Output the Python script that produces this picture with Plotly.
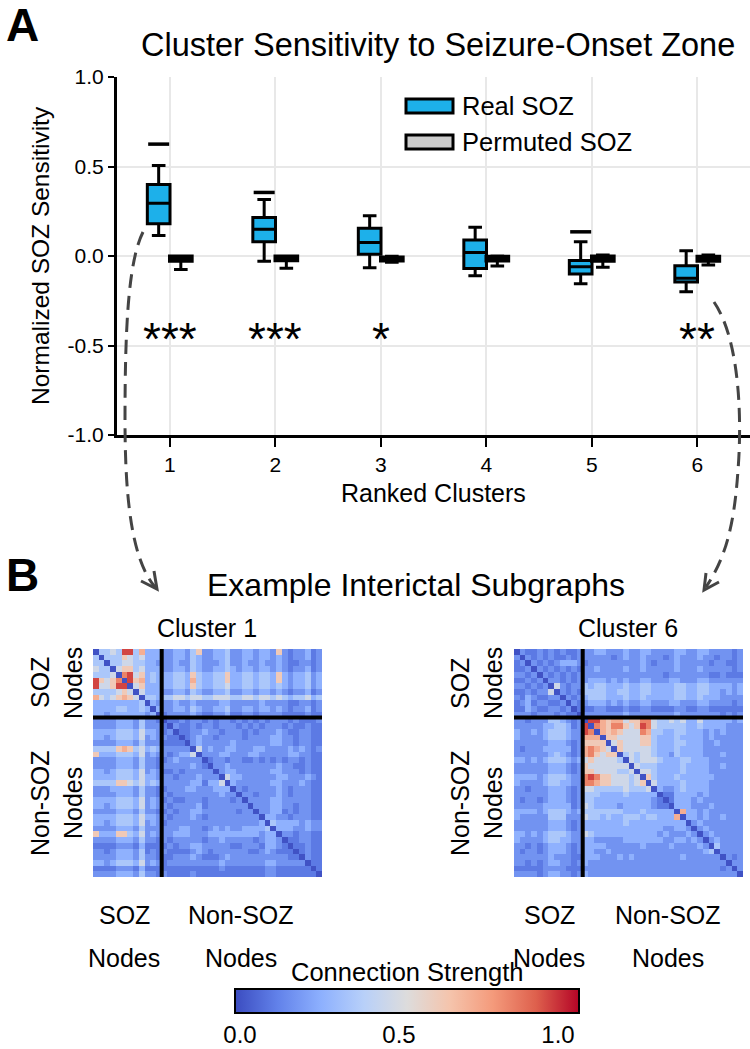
import plotly.graph_objects as go

W, H = 750, 1049
FONT = "Liberation Sans, Arial, Helvetica, sans-serif"

# ---------------- Panel A data ----------------
clusters = [1, 2, 3, 4, 5, 6]
real_q1 = [0.18, 0.08, 0.01, -0.07, -0.10, -0.145]
real_median = [0.295, 0.15, 0.075, 0.02, -0.06, -0.125]
real_q3 = [0.40, 0.215, 0.155, 0.09, -0.025, -0.055]
real_lower = [0.115, -0.03, -0.065, -0.11, -0.155, -0.20]
real_upper = [0.505, 0.315, 0.225, 0.16, 0.08, 0.03]
real_outliers = [[0.625], [0.355], [], [], [0.135], []]

perm_q1 = [-0.03, -0.027, -0.028, -0.028, -0.03, -0.03]
perm_median = [-0.015, -0.013, -0.017, -0.015, -0.015, -0.015]
perm_q3 = [0.0, 0.0, -0.005, -0.002, 0.0, -0.002]
perm_lower = [-0.075, -0.068, -0.035, -0.056, -0.063, -0.05]
perm_upper = [0.0, 0.0, -0.002, 0.0, 0.005, 0.005]

sig_labels = ["***", "***", "*", "", "", "**"]
sig_y = -0.43

y_ticks = [-1.0, -0.5, 0.0, 0.5, 1.0]
y_ticklabels = ["-1.0", "-0.5", "0.0", "0.5", "1.0"]

REAL_COLOR = "#1db0ea"
PERM_COLOR = "#cccccc"

# ---------------- Panel B data ----------------
n_nodes = 40
n_soz = 12
example_titles = ["Cluster 1", "Cluster 6"]
# digit level -> connection strength
LEVELS = [0.0, 0.1, 0.17, 0.26, 0.35, 0.47, 0.63, 0.73, 0.85, 0.97]

# Cluster 1: upper triangle, SOZ rows (cols i..11), SOZ x non-SOZ (cols 12..39), non-SOZ rows
c1_soz = ["044549947333", "04446545333", "0445544332", "056645333", "08956343",
          "0967343", "056333", "05333", "0443", "032", "03", "0"]
c1_cross = [
    "2233246223342233233262122312",
    "2233243223342233233232122312",
    "2232243222342232232232112212",
    "2233243223343233233232122312",
    "3344364334463344344363233423",
    "3344374334463344344363233423",
    "3344364334453344344343233423",
    "2233243223342233233232122312",
    "4455455445554455455454344534",
    "2232232222332222232222112212",
    "2233243223342233233232122312",
    "1222232112231122122221111211",
]
c1_non = [
    "0112122121221212121222121112", "021121221222121212221211211",
    "01122322122212122232112211", "0123221222212222332212211",
    "023222223222222332212211", "05232233222332222323212",
    "0222332223322222332211", "012212211212121221211",
    "02232222222232211211", "0233222222332221211",
    "053322222233222321", "03222222332223211",
    "0212222232122211", "022122232122211", "02222332222211",
    "0222332212211", "022331212211", "03322122211", "0433332322",
    "033322322", "02212211", "0112211", "011211", "01211", "0211",
    "011", "01", "0",
]

# Cluster 6
c6_soz = ["021121212112", "02121211212", "0212123332", "021212121", "02121212",
          "0221212", "052122", "02121", "0212", "021", "01", "0"]
c6_cross = [
    "2233222322332222332233222212",
    "2222212322322212322232212212",
    "1222222222321222322222122112",
    "2232222322322222322232222212",
    "2222222222222212222222112111",
    "2333232322332223322233222222",
    "4344333433443333443344333323",
    "4444334433443333443344332323",
    "3444333433433333443343332222",
    "2333232322332223322233222212",
    "1122111211221111221122111111",
    "2222222322222222322222221212",
]
c6_non = [
    "0997677566885445453353333323", "087688656985444443343333222",
    "07676555874433443332323222", "0665555664333433332322222",
    "056555664333443332232222", "06555554333433332222222",
    "0454554332433332223222", "054555433344333222222",
    "05444333343333223222", "0554333343333222222",
    "064333433333322222", "05333343333222222",
    "0322343333222222", "011333323222222", "01333232222222",
    "0333222322222", "073323222222", "03323223222", "0232222222",
    "023222222", "02322222", "0232222", "042222", "02222", "0212",
    "022", "02", "0",
]

cbar_ticks = [0.0, 0.5, 1.0]
cbar_ticklabels = ["0.0", "0.5", "1.0"]

COOLWARM = [
    [0.0, "#3b4cc0"], [0.125, "#6282ea"], [0.25, "#8db0fe"], [0.375, "#b8d0f9"],
    [0.5, "#dddcdc"], [0.625, "#f5c4ac"], [0.75, "#f49a7b"], [0.875, "#de604d"],
    [1.0, "#b40426"],
]


def build_matrix(soz_rows, cross_rows, non_rows):
    upper = [a + b for a, b in zip(soz_rows, cross_rows)] + list(non_rows)
    M = [[LEVELS[2]] * n_nodes for _ in range(n_nodes)]
    for i, row in enumerate(upper):
        for k, ch in enumerate(row):
            j = i + k
            if j < n_nodes:
                v = LEVELS[int(ch)]
                M[i][j] = v
                M[j][i] = v
    return M


M1 = build_matrix(c1_soz, c1_cross, c1_non)
M6 = build_matrix(c6_soz, c6_cross, c6_non)


def px(x):
    return x / W


def py(y):
    return 1 - y / H


OFF = 0.105
BOXW = 0.215

fig = go.Figure()

fig.add_trace(go.Box(
    x=[c - OFF for c in clusters], q1=real_q1, median=real_median, q3=real_q3,
    lowerfence=real_lower, upperfence=real_upper, width=BOXW,
    fillcolor=REAL_COLOR, line=dict(color="black", width=3), whiskerwidth=0.6,
    boxpoints=False, name="Real SOZ", showlegend=False, xaxis="x", yaxis="y"))
fig.add_trace(go.Box(
    x=[c + OFF for c in clusters], q1=perm_q1, median=perm_median, q3=perm_q3,
    lowerfence=perm_lower, upperfence=perm_upper, width=BOXW,
    fillcolor=PERM_COLOR, line=dict(color="black", width=3), whiskerwidth=0.6,
    boxpoints=False, name="Permuted SOZ", showlegend=False, xaxis="x", yaxis="y"))

ox, oy = [], []
for c, outs in zip(clusters, real_outliers):
    for v in outs:
        ox.append(c - OFF)
        oy.append(v)
fig.add_trace(go.Scatter(
    x=ox, y=oy, mode="markers", showlegend=False,
    marker=dict(symbol="line-ew", size=15, line=dict(color="black", width=3.5)),
    xaxis="x", yaxis="y"))

fig.add_trace(go.Heatmap(
    z=M1, x=list(range(n_nodes)), y=list(range(n_nodes)), colorscale=COOLWARM,
    zmin=-0.0157, zmax=1.066, showscale=False, xaxis="x2", yaxis="y2"))
fig.add_trace(go.Heatmap(
    z=M6, x=list(range(n_nodes)), y=list(range(n_nodes)), colorscale=COOLWARM,
    zmin=-0.0157, zmax=1.066, showscale=True, xaxis="x3", yaxis="y3",
    colorbar=dict(orientation="h", x=px(407), xanchor="center", y=py(989),
                  yanchor="top", len=344 / W, lenmode="fraction", thickness=24,
                  thicknessmode="pixels", outlinewidth=2, outlinecolor="black",
                  tickvals=cbar_ticks, ticktext=cbar_ticklabels, ticks="",
                  tickfont=dict(size=24, color="black", family=FONT),
                  xpad=0, ypad=0, borderwidth=0)))

axis_common = dict(showgrid=True, gridcolor="#e8e8e8", gridwidth=2, zeroline=False,
                   showline=True, linecolor="black", linewidth=3, ticks="outside",
                   tickcolor="black", tickwidth=2,
                   tickfont=dict(size=21, color="black", family=FONT))
hm_axis = dict(visible=False, showgrid=False, zeroline=False)

fig.update_layout(
    width=W, height=H, margin=dict(l=0, r=0, t=0, b=0, pad=0, autoexpand=False),
    paper_bgcolor="white", plot_bgcolor="white", showlegend=False,
    font=dict(family=FONT, color="black"),
    xaxis=dict(domain=[px(117), 1.0], range=[0.5, 6.5], tickvals=clusters,
               ticktext=[str(c) for c in clusters], ticklen=9, anchor="y",
               **axis_common),
    yaxis=dict(domain=[py(435), py(77)], range=[-1, 1], tickvals=y_ticks,
               ticktext=y_ticklabels, ticklen=6, anchor="x", **axis_common),
    xaxis2=dict(domain=[px(93), px(322)], range=[-0.5, n_nodes - 0.5], anchor="y2", **hm_axis),
    yaxis2=dict(domain=[py(877), py(649)], range=[n_nodes - 0.5, -0.5], anchor="x2", **hm_axis),
    xaxis3=dict(domain=[px(514), px(743)], range=[-0.5, n_nodes - 0.5], anchor="y3", **hm_axis),
    yaxis3=dict(domain=[py(877), py(649)], range=[n_nodes - 0.5, -0.5], anchor="x3", **hm_axis),
)

shapes = []
for xr, yr in [("x2", "y2"), ("x3", "y3")]:
    b = n_soz - 0.5
    shapes.append(dict(type="line", xref=xr, yref=yr, x0=b, x1=b, y0=-0.5,
                       y1=n_nodes - 0.5, line=dict(color="black", width=4)))
    shapes.append(dict(type="line", xref=xr, yref=yr, y0=b, y1=b, x0=-0.5,
                       x1=n_nodes - 0.5, line=dict(color="black", width=4)))

for (y0, y1), col in [((99, 113), REAL_COLOR), ((135, 149), PERM_COLOR)]:
    shapes.append(dict(type="rect", xref="paper", yref="paper", x0=px(406), x1=px(453),
                       y0=py(y1), y1=py(y0), fillcolor=col,
                       line=dict(color="black", width=3)))


def P(x, y):
    return f"{px(x):.5f},{py(y):.5f}"


ARROW = dict(color="#444444", width=3, dash="14px,8px")
shapes.append(dict(type="path", xref="paper", yref="paper",
                   path=f"M{P(143,232)} C{P(128,262)} {P(125,330)} {P(125,420)} "
                        f"C{P(125,500)} {P(132,560)} {P(155,587)}",
                   line=ARROW))
shapes.append(dict(type="path", xref="paper", yref="paper",
                   path=f"M{P(154,571)} L{P(157,589)} L{P(141,581)}",
                   line=dict(color="#444444", width=3)))
shapes.append(dict(type="path", xref="paper", yref="paper",
                   path=f"M{P(714,302)} C{P(740,340)} {P(742,420)} {P(738,470)} "
                        f"C{P(734,530)} {P(724,560)} {P(706,587)}",
                   line=ARROW))
shapes.append(dict(type="path", xref="paper", yref="paper",
                   path=f"M{P(706,573)} L{P(704,590)} L{P(719,582)}",
                   line=dict(color="#444444", width=3)))

annotations = []


def ann(text, x, y, size, **kw):
    d = dict(text=text, x=px(x), y=py(y), xref="paper", yref="paper",
             showarrow=False, xanchor="center", yanchor="middle",
             font=dict(size=size, color="black", family=FONT))
    d.update(kw)
    annotations.append(d)


ann("<b>A</b>", 22, 25, 46)
ann("<b>B</b>", 22, 575, 46)
ann("Cluster Sensitivity to Seizure-Onset Zone", 438, 45, 32.5)
ann("Normalized SOZ Sensitivity", 40, 256, 24.5, textangle=-90)
ann("Ranked Clusters", 433, 493, 25)
ann("Real SOZ", 460, 106, 25.5, xanchor="left")
ann("Permuted SOZ", 460, 142, 25.5, xanchor="left")
ann("Example Interictal Subgraphs", 416, 585, 32)
ann(example_titles[0], 207, 628, 25)
ann(example_titles[1], 628, 628, 25)
for cx in (40, 460):
    ann("SOZ", cx, 683, 25, textangle=-90)
    ann("Nodes", cx + 33, 683, 25, textangle=-90)
    ann("Non-SOZ", cx, 803, 25, textangle=-90)
    ann("Nodes", cx + 33, 803, 25, textangle=-90)
for sx, nx in ((124, 241), (549, 668)):
    ann("SOZ", sx, 915, 25)
    ann("Nodes", sx, 958, 25)
    ann("Non-SOZ", nx, 915, 25)
    ann("Nodes", nx, 958, 25)
ann("Connection Strength", 407, 972, 25.5)

for c, s in zip(clusters, sig_labels):
    if s:
        annotations.append(dict(text=s, x=c, y=sig_y, xref="x", yref="y",
                                showarrow=False, xanchor="center", yanchor="middle",
                                yshift=-6, font=dict(size=46, color="black", family=FONT)))

fig.update_layout(shapes=shapes, annotations=annotations)
fig.write_html(
    "out.html",
    config={"displayModeBar": False, "staticPlot": True},
    post_script="document.body.style.margin='0px';document.body.style.overflow='hidden';",
)
